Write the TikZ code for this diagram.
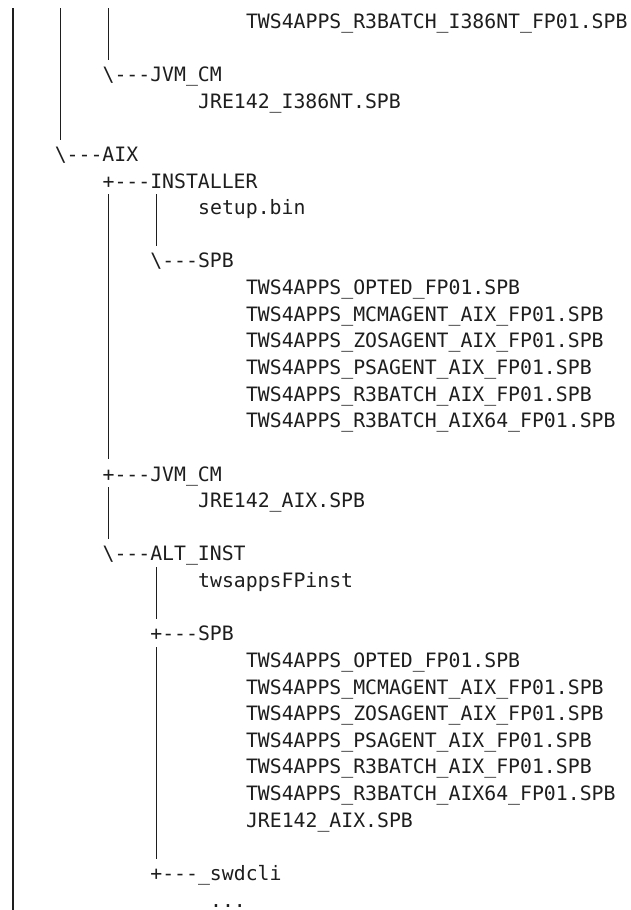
\documentclass[tikz,border=0pt]{standalone}
\usepackage{fontspec}
\setmonofont{DejaVu Sans Mono}
\definecolor{ink}{HTML}{1E1E1E}
\tikzset{
  row/.style={anchor=base west, inner sep=0pt, outer sep=0pt, text=ink, font=\ttfamily\fontsize{19.8pt}{26pt}\selectfont},
  vline/.style={draw=ink, line width=1.4pt}
}
\newcommand{\vseg}[4]{% name, col, first row, last row
  \coordinate (#1a) at (#2+0.5,#3-0.762);
  \coordinate (#1b) at (#2+0.5,#4+0.188);
  \draw[vline] (#1a) -- (#1b);}
\begin{document}
\begin{tikzpicture}
\useasboundingbox[fill=white] (0,0) rectangle (631pt,-910pt);
\begin{scope}[shift={(7pt,-28.3pt)}, x=11.95pt, y=-26.63pt]
  % vertical guide lines
  \vseg{c0}{0}{0}{33}
  \vseg{c4}{4}{0}{4}
  \vseg{c8a}{8}{0}{1}
  \vseg{c8b}{8}{7}{16}
  \vseg{c8c}{8}{18}{19}
  \vseg{c12a}{12}{7}{8}
  \vseg{c12b}{12}{21}{22}
  \vseg{c12c}{12}{24}{31}
  % text rows
  \node[row] (r0)  at (20,0)  {TWS4APPS\_R3BATCH\_I386NT\_FP01.SPB};
  \node[row] (r2)  at (8,2)   {\textbackslash---JVM\_CM};
  \node[row] (r3)  at (16,3)  {JRE142\_I386NT.SPB};
  \node[row] (r5)  at (4,5)   {\textbackslash---AIX};
  \node[row] (r6)  at (8,6)   {+---INSTALLER};
  \node[row] (r7)  at (16,7)  {setup.bin};
  \node[row] (r9)  at (12,9)  {\textbackslash---SPB};
  \node[row] (r10) at (20,10) {TWS4APPS\_OPTED\_FP01.SPB};
  \node[row] (r11) at (20,11) {TWS4APPS\_MCMAGENT\_AIX\_FP01.SPB};
  \node[row] (r12) at (20,12) {TWS4APPS\_ZOSAGENT\_AIX\_FP01.SPB};
  \node[row] (r13) at (20,13) {TWS4APPS\_PSAGENT\_AIX\_FP01.SPB};
  \node[row] (r14) at (20,14) {TWS4APPS\_R3BATCH\_AIX\_FP01.SPB};
  \node[row] (r15) at (20,15) {TWS4APPS\_R3BATCH\_AIX64\_FP01.SPB};
  \node[row] (r17) at (8,17)  {+---JVM\_CM};
  \node[row] (r18) at (16,18) {JRE142\_AIX.SPB};
  \node[row] (r20) at (8,20)  {\textbackslash---ALT\_INST};
  \node[row] (r21) at (16,21) {twsappsFPinst};
  \node[row] (r23) at (12,23) {+---SPB};
  \node[row] (r24) at (20,24) {TWS4APPS\_OPTED\_FP01.SPB};
  \node[row] (r25) at (20,25) {TWS4APPS\_MCMAGENT\_AIX\_FP01.SPB};
  \node[row] (r26) at (20,26) {TWS4APPS\_ZOSAGENT\_AIX\_FP01.SPB};
  \node[row] (r27) at (20,27) {TWS4APPS\_PSAGENT\_AIX\_FP01.SPB};
  \node[row] (r28) at (20,28) {TWS4APPS\_R3BATCH\_AIX\_FP01.SPB};
  \node[row] (r29) at (20,29) {TWS4APPS\_R3BATCH\_AIX64\_FP01.SPB};
  \node[row] (r30) at (20,30) {JRE142\_AIX.SPB};
  \node[row] (r32) at (12,32) {+---\_swdcli};
  \node[row] (r33) at (17,33) {...};
\end{scope}
\end{tikzpicture}
\end{document}
